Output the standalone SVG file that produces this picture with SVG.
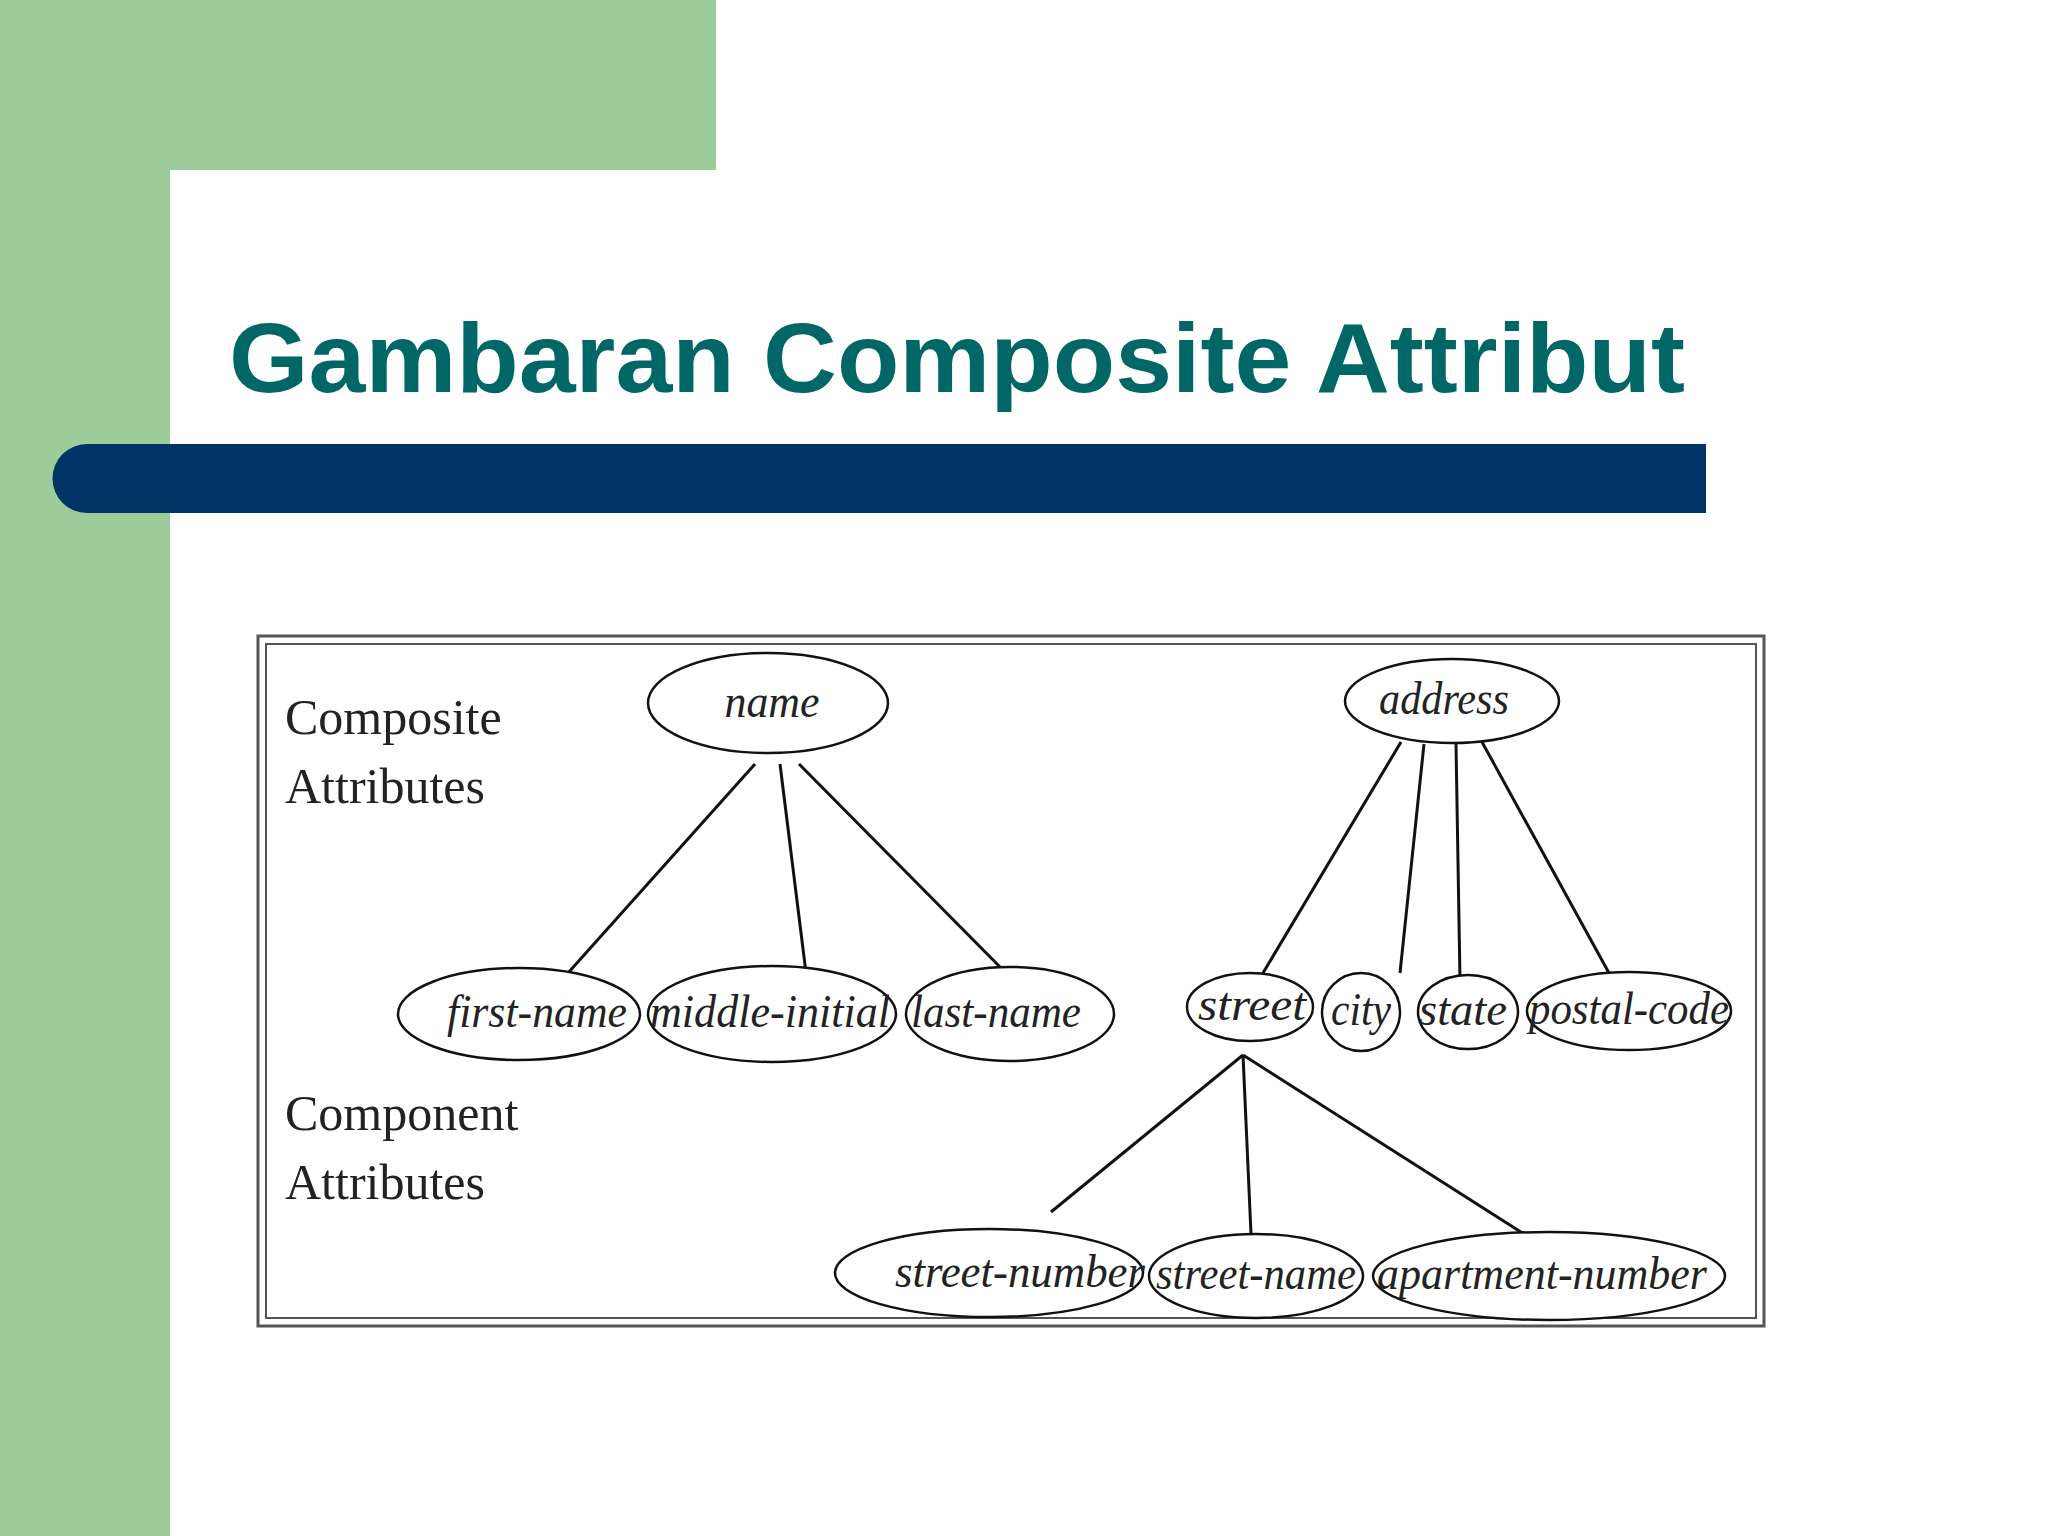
<svg xmlns="http://www.w3.org/2000/svg" width="2048" height="1536" viewBox="0 0 2048 1536">
<style>
.e{fill:#fff;stroke:#111;stroke-width:2.5}
.t{font-family:"Liberation Serif",serif;font-style:italic;font-size:46px;fill:#222;text-anchor:middle}
.l{font-family:"Liberation Serif",serif;font-size:50px;fill:#222}
#connectors line{stroke:#111;stroke-width:3}
</style>
<rect width="2048" height="1536" fill="#fff"/>
<rect x="0" y="0" width="716" height="170" fill="#9ccc9a"/>
<rect x="0" y="0" width="170" height="1536" fill="#9ccc9a"/>
<path d="M170 1536V235A65 65 0 0 1 235 170H716V0H2048V1536Z" fill="#fff"/>
<text x="229" y="392" font-family="Liberation Sans,Arial,sans-serif" font-weight="bold" font-size="98" fill="#006666" textLength="1456" lengthAdjust="spacingAndGlyphs">Gambaran Composite Attribut</text>
<path d="M87 444H1706V513H87A34.5 34.5 0 0 1 87 444Z" fill="#003366"/>
<rect x="258" y="636" width="1506" height="690" fill="#fff" stroke="#555" stroke-width="3"/>
<rect x="266" y="644" width="1490" height="674" fill="none" stroke="#555" stroke-width="2"/>
<text class="l" x="285" y="734">Composite</text>
<text class="l" x="285" y="803">Attributes</text>
<text class="l" x="285" y="1130">Component</text>
<text class="l" x="285" y="1199">Attributes</text>
<g id="connectors">
<line x1="755" y1="764" x2="568" y2="973"/>
<line x1="780" y1="764" x2="806" y2="973"/>
<line x1="799" y1="764" x2="1006" y2="973"/>
<line x1="1401" y1="742" x2="1263" y2="973"/>
<line x1="1424" y1="744" x2="1400" y2="973"/>
<line x1="1456" y1="744" x2="1460" y2="980"/>
<line x1="1482" y1="742" x2="1609" y2="973"/>
<line x1="1243" y1="1055" x2="1051" y2="1212"/>
<line x1="1243" y1="1055" x2="1251" y2="1234"/>
<line x1="1243" y1="1055" x2="1524" y2="1234"/>
</g>
<g id="name"><ellipse class="e" cx="768" cy="703" rx="120" ry="50"/><text class="t" x="772" y="717" textLength="95" lengthAdjust="spacingAndGlyphs">name</text></g>
<g id="address"><ellipse class="e" cx="1452" cy="701" rx="107" ry="42"/><text class="t" x="1444" y="714" textLength="130" lengthAdjust="spacingAndGlyphs">address</text></g>
<g id="first-name"><ellipse class="e" cx="519" cy="1014" rx="121" ry="46"/><text class="t" x="537" y="1027" textLength="180" lengthAdjust="spacingAndGlyphs">first-name</text></g>
<g id="middle-initial"><ellipse class="e" cx="772" cy="1014" rx="124" ry="48"/><text class="t" x="770" y="1027" textLength="240" lengthAdjust="spacingAndGlyphs">middle-initial</text></g>
<g id="last-name"><ellipse class="e" cx="1010" cy="1014" rx="104" ry="47"/><text class="t" x="996" y="1027" textLength="170" lengthAdjust="spacingAndGlyphs">last-name</text></g>
<g id="street"><ellipse class="e" cx="1250" cy="1007" rx="63" ry="34"/><text class="t" x="1252" y="1020" textLength="108" lengthAdjust="spacingAndGlyphs">street</text></g>
<g id="city"><ellipse class="e" cx="1361" cy="1012" rx="39" ry="39"/><text class="t" x="1361" y="1025" textLength="60" lengthAdjust="spacingAndGlyphs">city</text></g>
<g id="state"><ellipse class="e" cx="1468" cy="1012" rx="50" ry="37"/><text class="t" x="1463" y="1025" textLength="88" lengthAdjust="spacingAndGlyphs">state</text></g>
<g id="postal-code"><ellipse class="e" cx="1629" cy="1011" rx="102" ry="39"/><text class="t" x="1629" y="1024" textLength="200" lengthAdjust="spacingAndGlyphs">postal-code</text></g>
<g id="street-number"><ellipse class="e" cx="989" cy="1273" rx="154" ry="44"/><text class="t" x="1020" y="1287" textLength="250" lengthAdjust="spacingAndGlyphs">street-number</text></g>
<g id="street-name"><ellipse class="e" cx="1256" cy="1276" rx="107" ry="42"/><text class="t" x="1256" y="1289" textLength="200" lengthAdjust="spacingAndGlyphs">street-name</text></g>
<g id="apartment-number"><ellipse class="e" cx="1549" cy="1276" rx="176" ry="44"/><text class="t" x="1542" y="1289" textLength="330" lengthAdjust="spacingAndGlyphs">apartment-number</text></g>
</svg>
